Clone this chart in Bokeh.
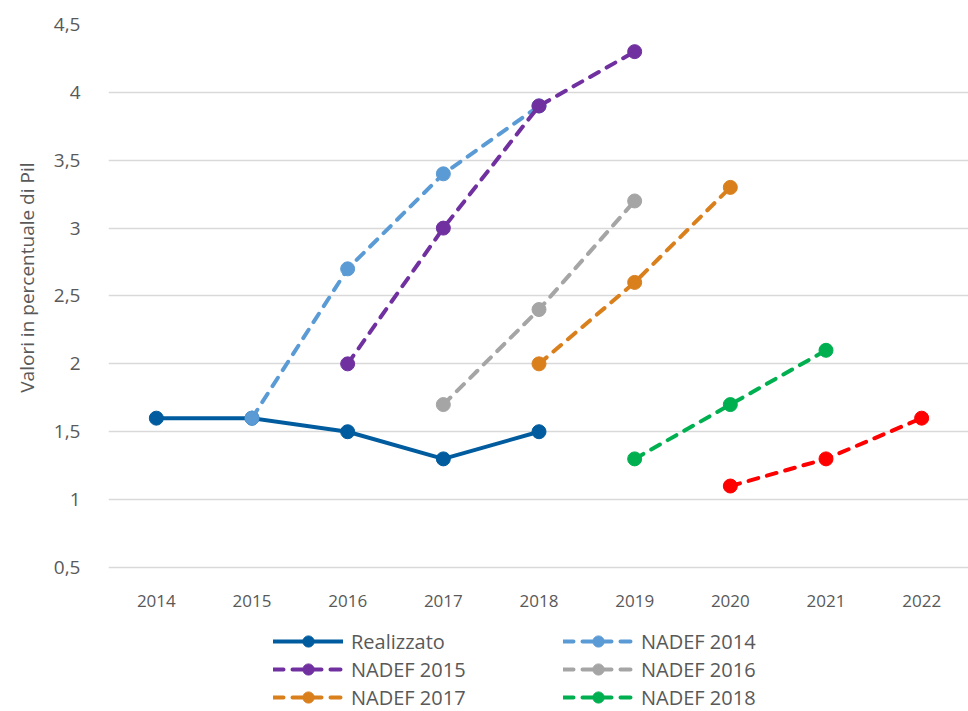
from bokeh.plotting import figure
from bokeh.models import (Range1d, FixedTicker, Legend, LegendItem, Title)
from bokeh.embed import file_html
from bokeh.resources import INLINE

years = ["2014", "2015", "2016", "2017", "2018", "2019", "2020", "2021", "2022"]

realizzato_x = ["2014", "2015", "2016", "2017", "2018"]
realizzato_y = [1.6, 1.6, 1.5, 1.3, 1.5]

nadef2014_x = ["2015", "2016", "2017", "2018"]
nadef2014_y = [1.6, 2.7, 3.4, 3.9]

nadef2015_x = ["2016", "2017", "2018", "2019"]
nadef2015_y = [2.0, 3.0, 3.9, 4.3]

nadef2016_x = ["2017", "2018", "2019"]
nadef2016_y = [1.7, 2.4, 3.2]

nadef2017_x = ["2018", "2019", "2020"]
nadef2017_y = [2.0, 2.6, 3.3]

nadef2018_x = ["2019", "2020", "2021"]
nadef2018_y = [1.3, 1.7, 2.1]

nadef2019_x = ["2020", "2021", "2022"]
nadef2019_y = [1.1, 1.3, 1.6]

y_ticks = [0.5, 1.0, 1.5, 2.0, 2.5, 3.0, 3.5, 4.0, 4.5]
y_tick_labels = ["0,5", "1", "1,5", "2", "2,5", "3", "3,5", "4", "4,5"]

y_title = "Valori in percentuale di Pil"

TEXT = "#595959"
GRID = "#D9D9D9"

# frame spans down to the page bottom so that the legend sits inside it;
# the category axis is pinned at y = 0.5 (the Excel axis crossing)
p = figure(x_range=years, y_range=Range1d(-0.561, 4.5),
           width=968, height=711, output_backend="svg", toolbar_location=None,
           min_border_left=107, min_border_right=0, min_border_top=24,
           min_border_bottom=0)
p.frame_height = 687
p.frame_width = 861
p.outline_line_color = None
p.background_fill_color = "white"
p.border_fill_color = "white"

yt = FixedTicker(ticks=y_ticks)
p.xgrid.grid_line_color = None
p.ygrid.ticker = yt
p.ygrid.grid_line_color = GRID
p.ygrid.grid_line_width = 1.5

p.yaxis.ticker = yt
p.yaxis.major_label_overrides = {t: l for t, l in zip(y_ticks, y_tick_labels)}
for ax in (p.xaxis, p.yaxis):
    ax.axis_line_color = None
    ax.major_tick_line_color = None
    ax.minor_tick_line_color = None
    ax.major_label_text_color = TEXT
p.yaxis.major_label_text_font = "Open Sans"
p.yaxis.major_label_text_font_size = "19px"
p.yaxis.major_label_standoff = 22
p.xaxis.fixed_location = 0.5
p.xaxis.major_label_text_font = "Open Sans"
p.xaxis.major_label_text_font_size = "17px"
p.xaxis.major_label_standoff = 22

p.add_layout(Title(text=y_title, align="right", offset=138, standoff=22,
                   text_font="Open Sans", text_font_size="19px",
                   text_font_style="normal", text_color=TEXT), "left")

series = [
    ("Realizzato", realizzato_x, realizzato_y, "#005C9E", None),
    ("NADEF 2014", nadef2014_x, nadef2014_y, "#5B9BD5", "10 9"),
    ("NADEF 2015", nadef2015_x, nadef2015_y, "#7030A0", "10 9"),
    ("NADEF 2016", nadef2016_x, nadef2016_y, "#A5A5A5", "10 9"),
    ("NADEF 2017", nadef2017_x, nadef2017_y, "#D97F1C", "10 9"),
    ("NADEF 2018", nadef2018_x, nadef2018_y, "#00B050", "10 9"),
    (None, nadef2019_x, nadef2019_y, "#FF0000", "10 9"),
]

items = {}
for name, xs, ys, color, dash in series:
    kw = dict(line_color=color, line_width=4, line_cap="round", line_join="round")
    if dash:
        kw["line_dash"] = dash
    l = p.line(xs, ys, **kw)
    s = p.scatter(xs, ys, size=14, fill_color=color, line_color=color, marker="circle")
    if name:
        items[name] = LegendItem(label=name, renderers=[l, s])

# legend fills column by column: arrange so rows read left-to-right
legend_order = ["Realizzato", "NADEF 2015", "NADEF 2017",
                "NADEF 2014", "NADEF 2016", "NADEF 2018"]

legend = Legend(items=[items[n] for n in legend_order], ncols=2, location=(165, 0),
                glyph_width=70, glyph_height=28, label_height=20,
                label_width=212, label_standoff=8, spacing=0, padding=0, margin=0,
                label_text_font="Open Sans", label_text_font_size="20px",
                label_text_color=TEXT, border_line_color=None,
                background_fill_alpha=0)
p.add_layout(legend, "center")

open("out.html", "w").write(file_html(p, INLINE))
